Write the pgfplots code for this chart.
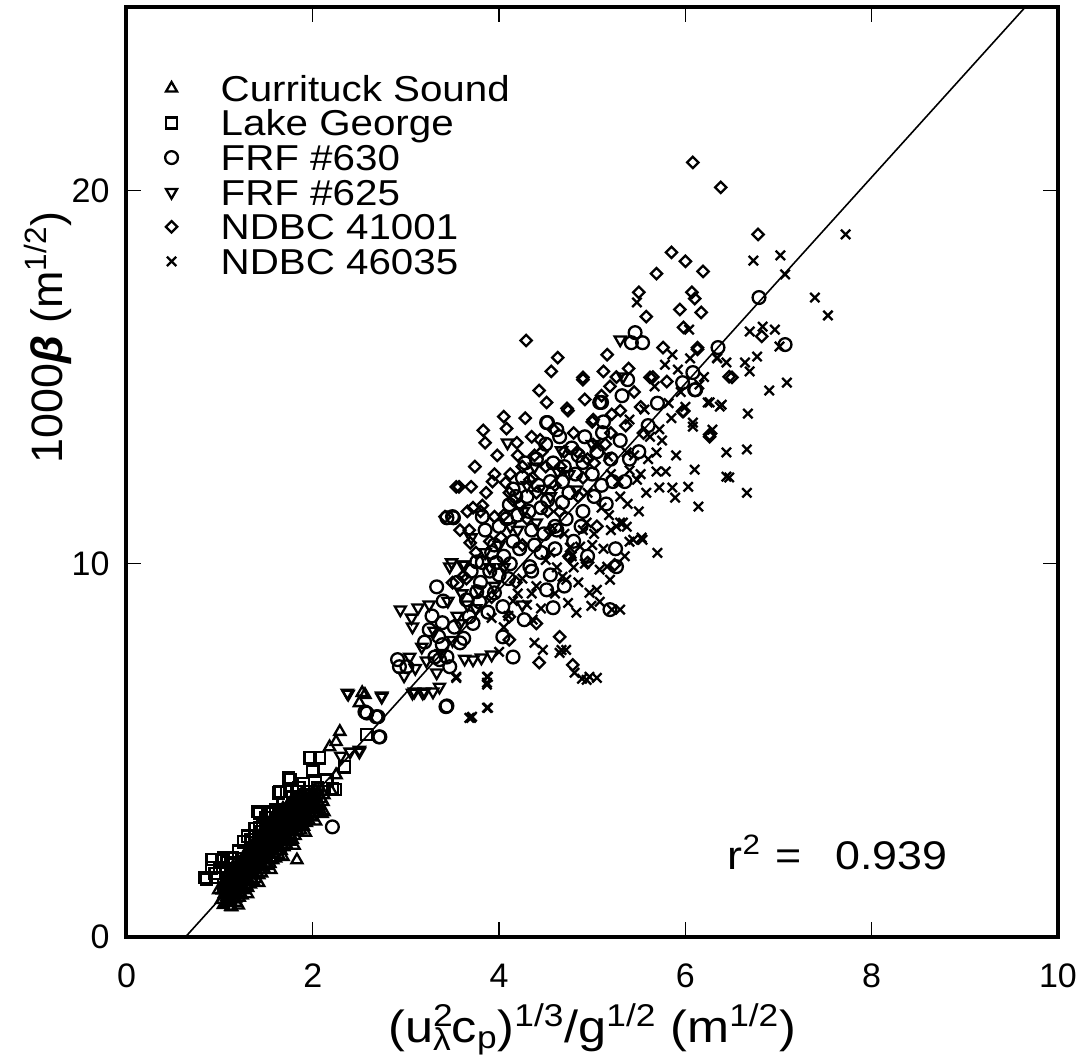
\documentclass[border=0pt]{standalone}
\usepackage{pgfplots}
\pgfplotsset{compat=1.18}
\usepackage{fontspec}
\setmainfont{Liberation Sans}
\newfontfamily\widefont[FakeStretch=1.12]{Liberation Sans}
\newfontfamily\midfont[FakeStretch=1.02]{Liberation Sans}
\begin{document}
\begin{tikzpicture}
\useasboundingbox (-63.25pt,-63.5pt) rectangle (478.25pt,468.5pt);
\begin{axis}[
  at={(0,0)}, anchor=south west,
  scale only axis, width=465.75pt, height=464.75pt,
  xmin=0, xmax=10, ymin=0, ymax=24.9,
  xtick={0,2,4,6,8,10}, ytick={0,10,20},
  tick align=inside, major tick length=7.5pt,
  tick style={line width=0.7pt, black},
  axis line style={line width=2pt},
  /pgf/number format/assume math mode=true,
  tick label style={font=\fontsize{17}{20}\selectfont},
  xticklabel style={yshift=-10pt},
  yticklabel style={xshift=-5pt},
  xlabel={\widefont\fontsize{22.5}{26}\selectfont (u\rlap{\textsuperscript{2}}\textsubscript{λ}c\textsubscript{p})\textsuperscript{1/3}/g\textsuperscript{1/2} (m\textsuperscript{1/2})},
  xlabel style={at={(axis description cs:0.5,-0.113)}, anchor=base},
  ylabel={\midfont\fontsize{22}{26}\selectfont 1000\textit{\textbf{β}} (m\textsuperscript{1/2})},
  ylabel style={at={(axis description cs:-0.0692,0.645)}, anchor=base},
  legend cell align=left,
  legend image code/.code={\draw[#1] plot coordinates {(6pt,0pt)}; \path (0pt,0pt) (30pt,0pt);},
  legend style={draw=none, fill=none, at={(axis description cs:0,1)}, anchor=north west,
    xshift=15.75pt, yshift=-33.75pt, inner sep=0pt, row sep=4.3pt,
    font=\widefont\fontsize{18}{21}\selectfont,
    nodes={text height=13pt, text depth=0pt, inner xsep=0pt, inner ysep=0pt}},
  every axis plot/.append style={line width=1.15pt, black},
]
% Currituck Sound
\addplot[only marks, mark=triangle, mark size=3.2pt] table {
1.04 0.86
1.06 1.12
1.05 1.37
1.07 1.58
1.09 0.97
1.08 1.22
1.10 1.46
1.09 1.71
1.12 0.81
1.11 1.06
1.13 1.31
1.12 1.62
1.14 1.86
1.15 1.01
1.14 1.27
1.16 1.52
1.15 1.76
1.18 0.92
1.17 1.16
1.19 1.42
1.18 1.66
1.20 1.94
1.21 1.06
1.20 1.31
1.22 1.57
1.21 1.81
1.23 2.04
1.24 1.12
1.23 1.39
1.25 1.66
1.24 1.91
1.26 2.16
1.27 1.26
1.26 1.51
1.28 1.76
1.27 2.01
1.29 2.24
1.30 1.32
1.29 1.61
1.31 1.86
1.30 2.11
1.32 2.36
1.33 1.41
1.32 1.66
1.34 1.96
1.33 2.21
1.35 2.44
1.36 1.51
1.35 1.79
1.37 2.06
1.36 2.31
1.38 2.56
1.39 1.56
1.38 1.86
1.40 2.11
1.39 2.41
1.41 2.66
1.42 1.66
1.41 1.96
1.43 2.21
1.42 2.51
1.44 2.76
1.45 1.71
1.44 2.01
1.46 2.31
1.45 2.61
1.47 2.86
1.48 1.81
1.47 2.11
1.49 2.41
1.48 2.66
1.50 2.96
1.51 1.91
1.50 2.21
1.52 2.51
1.51 2.76
1.53 3.04
1.54 1.96
1.53 2.26
1.55 2.56
1.54 2.86
1.56 3.11
1.57 2.06
1.56 2.36
1.58 2.66
1.57 2.96
1.59 3.21
1.60 2.11
1.59 2.46
1.61 2.76
1.60 3.01
1.62 3.29
1.63 2.21
1.62 2.51
1.64 2.81
1.63 3.11
1.65 3.36
1.66 2.31
1.65 2.61
1.67 2.91
1.66 3.21
1.68 3.44
1.69 2.41
1.68 2.71
1.70 3.01
1.69 3.31
1.72 2.46
1.71 2.76
1.73 3.06
1.72 3.36
1.75 2.56
1.74 2.86
1.76 3.16
1.75 3.46
1.78 2.61
1.77 2.96
1.79 3.26
1.78 3.56
1.81 2.71
1.80 3.01
1.82 3.31
1.81 3.61
1.84 2.81
1.83 3.11
1.85 3.41
1.84 3.71
1.87 2.86
1.86 3.21
1.88 3.51
1.87 3.79
1.90 2.96
1.89 3.26
1.91 3.56
1.90 3.84
1.93 3.06
1.92 3.36
1.94 3.66
1.96 3.11
1.95 3.46
1.97 3.76
1.99 3.21
1.98 3.51
2.00 3.86
2.02 3.31
2.01 3.61
2.03 3.91
2.05 3.41
2.04 3.71
2.08 3.51
2.07 3.81
2.11 3.62
1.02 1.00
1.03 1.25
1.06 0.92
1.07 1.45
1.08 1.08
1.10 1.33
1.10 1.58
1.12 0.93
1.13 1.18
1.13 1.74
1.15 1.40
1.16 1.64
1.17 1.04
1.17 1.88
1.19 1.29
1.19 1.54
1.20 1.78
1.22 1.18
1.22 1.44
1.22 1.68
1.23 1.93
1.25 1.28
1.25 1.53
1.26 1.80
1.27 2.08
1.28 1.38
1.28 1.63
1.29 1.90
1.30 2.17
1.31 1.48
1.31 1.74
1.32 2.00
1.33 2.28
1.34 1.56
1.34 1.83
1.35 2.10
1.36 2.38
1.37 1.66
1.37 1.92
1.38 2.20
1.39 2.48
1.40 1.72
1.40 1.99
1.41 2.28
1.42 2.58
1.43 1.80
1.43 2.09
1.44 2.38
1.45 2.68
1.46 1.88
1.46 2.18
1.47 2.48
1.48 2.78
1.49 1.97
1.49 2.27
1.50 2.56
1.51 2.86
1.52 2.06
1.52 2.35
1.53 2.66
1.54 2.95
1.55 2.12
1.55 2.44
1.56 2.74
1.57 3.04
1.58 2.22
1.58 2.54
1.59 2.84
1.60 3.12
1.61 2.30
1.61 2.62
1.62 2.92
1.63 3.20
1.64 2.40
1.64 2.70
1.65 3.00
1.66 3.30
1.67 2.48
1.67 2.80
1.68 3.10
1.69 3.38
1.70 2.58
1.70 2.88
1.71 3.18
1.72 3.48
1.73 2.66
1.73 2.96
1.74 3.26
1.75 3.56
1.76 2.74
1.76 3.06
1.77 3.36
1.79 2.82
1.79 3.14
1.80 3.44
1.81 3.70
1.82 2.92
1.82 3.22
1.83 3.52
1.85 3.00
1.85 3.30
1.86 3.60
1.88 3.08
1.88 3.38
1.89 3.68
1.91 3.16
1.91 3.46
1.92 3.74
1.94 3.26
1.94 3.56
1.96 3.32
1.96 3.62
1.98 3.40
1.99 3.68
2.01 3.46
2.02 3.76
2.04 3.54
2.06 3.62
2.06 3.90
2.09 3.70
2.12 3.80
1.05 1.15
1.06 1.30
1.08 1.25
1.09 1.40
1.11 1.20
1.12 1.45
1.14 1.38
1.15 1.55
1.17 1.30
1.18 1.50
1.20 1.45
1.21 1.62
1.23 1.52
1.24 1.72
1.26 1.62
1.27 1.85
1.29 1.72
1.30 1.95
1.32 1.82
1.33 2.05
1.35 1.92
1.36 2.15
1.38 2.00
1.39 2.25
1.41 2.08
1.42 2.35
1.44 2.18
1.45 2.45
1.47 2.25
1.48 2.52
1.50 2.35
1.51 2.62
1.53 2.42
1.54 2.70
1.56 2.50
1.57 2.80
1.59 2.60
1.60 2.88
1.62 2.68
1.63 2.96
1.65 2.76
1.66 3.05
1.68 2.85
1.69 3.12
1.71 2.92
1.72 3.20
1.74 3.00
1.75 3.28
1.77 3.08
1.78 3.36
1.80 3.16
1.81 3.44
1.83 3.24
1.84 3.52
1.86 3.32
1.87 3.60
1.89 3.40
1.90 3.66
1.92 3.48
1.93 3.72
1.95 3.55
1.97 3.64
2.00 3.70
2.03 3.78
1.20 0.85
1.30 1.15
1.42 1.45
1.55 1.80
1.68 2.15
1.80 2.45
1.92 2.80
2.03 3.10
2.12 3.35
1.13 0.80
0.99 1.26
1.83 2.06
2.10 3.30
2.20 3.90
2.25 4.34
2.18 5.09
2.25 5.23
2.29 5.50
2.50 6.27
2.53 6.54
2.56 6.49
};
\addlegendentry{Currituck Sound}
% Lake George
\addplot[only marks, mark=square, mark size=2.8pt] table {
0.84 1.59
0.86 1.55
0.91 1.85
0.92 2.07
0.95 1.70
0.98 1.60
1.00 1.86
1.02 2.06
1.04 2.12
1.04 1.40
1.08 2.00
1.10 1.60
1.12 2.10
1.14 2.12
1.15 1.95
1.18 1.80
1.20 2.30
1.25 2.10
1.26 2.55
1.30 2.70
1.33 2.61
1.34 2.52
1.35 2.40
1.38 2.90
1.41 3.36
1.43 2.93
1.43 3.32
1.45 2.82
1.46 2.95
1.50 3.20
1.52 3.36
1.55 2.90
1.57 3.32
1.60 3.40
1.63 3.36
1.63 3.86
1.65 3.90
1.65 3.10
1.68 3.60
1.72 3.90
1.74 4.26
1.76 4.22
1.78 3.75
1.80 3.50
1.83 3.90
1.85 4.00
1.90 4.10
1.95 3.90
1.97 4.80
2.00 4.48
2.00 4.43
2.05 4.00
2.07 4.80
2.15 4.20
2.21 3.97
2.24 3.95
2.34 4.56
2.58 5.42
};
\addlegendentry{Lake George}
% FRF #630
\addplot[only marks, mark=o, mark size=3.2pt] table {
1.85 3.60
1.95 3.70
2.05 3.95
2.21 2.95
2.56 6.03
2.58 6.00
2.68 5.90
2.70 5.90
2.71 5.36
2.72 5.36
2.91 7.43
2.93 7.24
3.01 7.24
3.25 8.23
3.31 7.50
3.33 9.38
3.36 7.43
3.39 8.42
3.39 7.83
3.43 6.17
3.44 7.50
3.44 6.19
3.44 11.23
3.47 7.24
3.50 11.26
3.51 11.23
3.58 7.88
3.65 9.03
3.68 8.58
3.76 9.25
3.76 10.05
3.79 8.98
3.82 10.03
3.82 11.26
3.85 10.90
3.90 9.80
3.95 9.22
3.95 10.50
3.97 10.03
4.00 11.00
4.04 8.04
4.04 8.85
4.05 10.20
4.10 9.60
4.11 11.58
4.15 7.50
4.15 10.60
4.15 12.00
4.20 11.30
4.25 12.30
4.27 8.50
4.30 11.80
4.33 9.92
4.35 10.90
4.35 9.80
4.40 12.80
4.45 11.50
4.45 10.30
4.50 13.20
4.51 9.30
4.51 13.78
4.52 13.78
4.55 12.20
4.55 9.70
4.58 8.82
4.60 11.00
4.60 10.40
4.62 13.59
4.65 13.40
4.68 11.64
4.70 12.60
4.70 9.40
4.75 11.90
4.80 10.60
4.85 12.90
4.90 11.40
4.90 12.71
4.95 10.20
5.00 12.40
5.05 13.00
5.08 14.32
5.10 12.10
5.10 14.32
5.11 13.51
5.15 11.60
5.19 8.77
5.20 12.80
5.25 10.40
5.26 9.92
5.30 13.30
5.35 12.20
5.38 14.93
5.42 15.92
5.46 16.19
5.50 13.00
5.54 15.92
5.60 13.70
5.70 14.30
5.97 14.85
6.08 15.12
6.10 14.66
6.11 14.66
6.35 15.79
6.79 17.13
7.07 15.87
3.20 7.90
3.28 8.60
3.35 8.05
3.40 9.00
3.52 8.30
3.55 9.50
3.62 8.00
3.70 9.80
3.72 8.40
3.80 9.50
3.88 8.70
3.92 10.30
4.00 9.70
4.08 11.20
4.12 10.00
4.18 11.80
4.22 10.40
4.28 12.70
4.32 11.40
4.38 10.50
4.42 12.10
4.48 10.80
4.52 11.70
4.58 12.70
4.62 10.90
4.68 12.20
4.72 11.20
4.78 13.10
4.82 12.40
4.88 11.00
4.92 13.40
5.02 11.80
5.12 13.80
5.22 12.20
5.32 14.50
5.40 12.80
};
\addlegendentry{FRF \#630}
% FRF #625
\addplot[only marks, mark=triangle, mark size=3.2pt, mark options={rotate=180}] table {
2.30 4.85
2.37 6.54
2.38 6.51
2.40 4.96
2.50 4.96
2.50 5.01
2.74 6.43
2.74 6.46
2.94 8.77
3.04 7.50
3.06 8.55
3.07 8.31
3.07 6.54
3.09 6.57
3.13 8.82
3.17 7.77
3.18 6.54
3.20 6.57
3.25 8.90
3.29 6.57
3.30 8.20
3.33 7.08
3.36 6.70
3.45 9.00
3.47 9.92
3.49 10.03
3.55 8.60
3.60 9.20
3.61 9.97
3.63 9.97
3.63 7.45
3.70 10.70
3.72 7.43
3.75 8.80
3.81 7.48
3.85 10.30
3.92 7.56
3.95 9.40
4.05 9.90
4.09 13.24
4.20 10.90
4.25 8.90
4.30 12.10
4.40 11.10
4.55 11.80
4.63 12.47
4.67 13.03
4.75 12.40
4.83 11.98
5.00 13.20
5.30 16.00
5.33 15.01
3.38 7.60
3.50 7.95
3.58 8.40
3.66 8.90
3.78 9.30
3.90 9.90
4.00 10.50
4.12 11.00
4.26 11.40
4.38 12.60
4.48 12.00
3.10 7.20
3.22 7.40
2.98 7.00
};
\addlegendentry{FRF \#625}
% NDBC 41001
\addplot[only marks, mark=square, mark size=2pt, mark options={rotate=45}] table {
3.42 11.26
3.50 9.49
3.54 12.06
3.57 12.06
3.61 9.65
3.65 9.60
3.68 10.90
3.69 10.56
3.70 12.06
3.72 11.50
3.75 10.30
3.80 11.40
3.82 11.56
3.83 13.57
3.85 13.24
3.90 10.60
3.93 12.20
3.95 11.26
3.95 12.40
4.05 13.94
4.05 11.30
4.07 12.17
4.08 13.62
4.11 8.58
4.11 7.96
4.11 11.90
4.15 11.70
4.19 13.24
4.20 12.90
4.25 12.60
4.25 10.50
4.29 15.98
4.30 11.20
4.33 12.25
4.35 13.40
4.38 12.90
4.40 11.90
4.43 14.64
4.43 7.35
4.44 13.32
4.50 12.60
4.51 14.32
4.55 10.90
4.56 15.15
4.60 12.10
4.63 15.52
4.65 8.04
4.65 11.40
4.70 13.00
4.73 14.16
4.75 10.20
4.76 10.16
4.79 7.29
4.80 13.50
4.85 11.80
4.90 14.93
4.90 12.30
4.90 14.99
4.95 12.80
4.95 10.03
5.00 13.80
5.01 13.86
5.05 11.00
5.10 14.50
5.12 15.15
5.16 15.60
5.19 14.75
5.20 13.50
5.21 14.00
5.24 9.97
5.30 14.10
5.39 15.23
5.45 14.60
5.50 17.27
5.55 13.50
5.58 16.62
5.62 14.99
5.65 15.00
5.69 17.77
5.76 15.79
5.80 14.88
5.85 18.34
5.94 16.81
5.97 14.08
5.98 16.33
5.98 14.08
6.00 18.10
6.07 17.27
6.08 20.75
6.10 17.10
6.13 15.79
6.13 15.74
6.17 16.73
6.19 17.83
6.26 13.46
6.26 13.40
6.38 20.08
6.47 15.01
6.50 14.99
6.78 18.82
6.82 16.09
3.58 10.90
3.66 11.40
3.74 12.60
3.86 11.90
3.98 12.90
4.02 10.70
4.12 12.40
4.22 11.60
4.28 13.90
4.36 12.30
4.46 13.00
4.52 11.40
4.58 13.60
4.66 12.60
4.74 14.10
4.84 13.00
4.92 14.40
5.02 12.70
5.14 13.20
5.26 15.00
5.36 13.70
5.52 14.20
3.92 9.10
4.18 9.50
4.40 8.40
};
\addlegendentry{NDBC 41001}
% NDBC 46035
\addplot[only marks, mark=x, mark size=3.3pt] table {
3.54 6.97
3.54 6.94
3.68 5.87
3.70 5.87
3.71 5.90
3.87 6.97
3.87 6.14
3.87 6.81
3.87 6.76
3.88 6.97
3.88 6.14
3.92 8.55
4.00 7.64
4.10 8.60
4.20 9.20
4.30 8.90
4.36 8.50
4.38 7.88
4.40 9.40
4.47 7.69
4.50 10.10
4.60 9.20
4.65 7.61
4.67 7.69
4.68 9.65
4.70 10.80
4.72 7.69
4.72 9.57
4.74 8.95
4.76 10.43
4.80 9.90
4.81 7.08
4.83 8.69
4.87 10.46
4.89 6.92
4.90 10.90
4.94 11.10
4.94 6.89
4.95 11.90
4.97 9.22
4.97 6.97
4.99 8.87
5.00 10.50
5.05 6.94
5.05 9.30
5.05 13.14
5.05 13.24
5.08 8.98
5.08 9.84
5.10 11.50
5.16 9.92
5.17 12.87
5.19 9.57
5.20 10.90
5.20 12.40
5.21 8.77
5.26 11.00
5.30 11.10
5.30 8.77
5.30 11.80
5.33 11.10
5.35 10.20
5.37 10.99
5.37 12.98
5.40 10.59
5.40 12.50
5.40 13.86
5.44 10.64
5.48 12.25
5.48 17.00
5.50 11.40
5.53 10.70
5.54 10.64
5.56 14.13
5.58 11.90
5.60 12.80
5.67 14.75
5.69 12.47
5.69 12.98
5.70 10.29
5.72 12.04
5.75 13.30
5.78 15.33
5.79 12.47
5.85 13.90
5.86 15.60
5.86 12.04
5.89 11.77
5.90 12.90
5.95 14.60
6.00 14.20
6.03 12.06
6.04 16.27
6.08 13.78
6.08 13.67
6.10 12.52
6.14 11.53
6.20 15.00
6.24 14.32
6.26 14.32
6.29 13.59
6.34 15.52
6.34 15.50
6.37 14.21
6.39 14.26
6.44 15.39
6.44 12.98
6.44 12.33
6.47 12.31
6.64 15.39
6.66 13.06
6.66 11.90
6.67 14.02
6.69 16.22
6.69 15.15
6.73 18.12
6.77 15.55
6.83 16.35
6.90 14.64
6.96 16.27
7.01 15.82
7.02 18.26
7.07 17.75
7.09 14.85
7.39 17.13
7.53 16.65
7.72 18.82
4.05 8.30
4.15 9.00
4.25 9.60
4.35 9.20
4.45 8.80
4.55 10.30
4.62 9.90
4.78 10.20
4.85 9.50
4.92 10.00
5.02 10.80
5.12 10.40
5.18 11.30
5.28 12.20
5.38 11.60
5.45 12.90
5.52 12.40
5.62 13.40
5.72 13.60
5.82 14.30
5.92 15.20
6.05 15.50
6.15 14.80
};
\addlegendentry{NDBC 46035}
% fit line
\addplot[no marks, line width=0.8pt, forget plot] coordinates {(0.633,0) (9.645,24.9)};
\node[anchor=base west, inner sep=0pt, font=\widefont\fontsize{20}{24}\selectfont] at (axis cs:6.45,1.8) {r\textsuperscript{2}\hspace{7pt}=\hspace{17pt}0.939};
\end{axis}
\end{tikzpicture}
\end{document}
